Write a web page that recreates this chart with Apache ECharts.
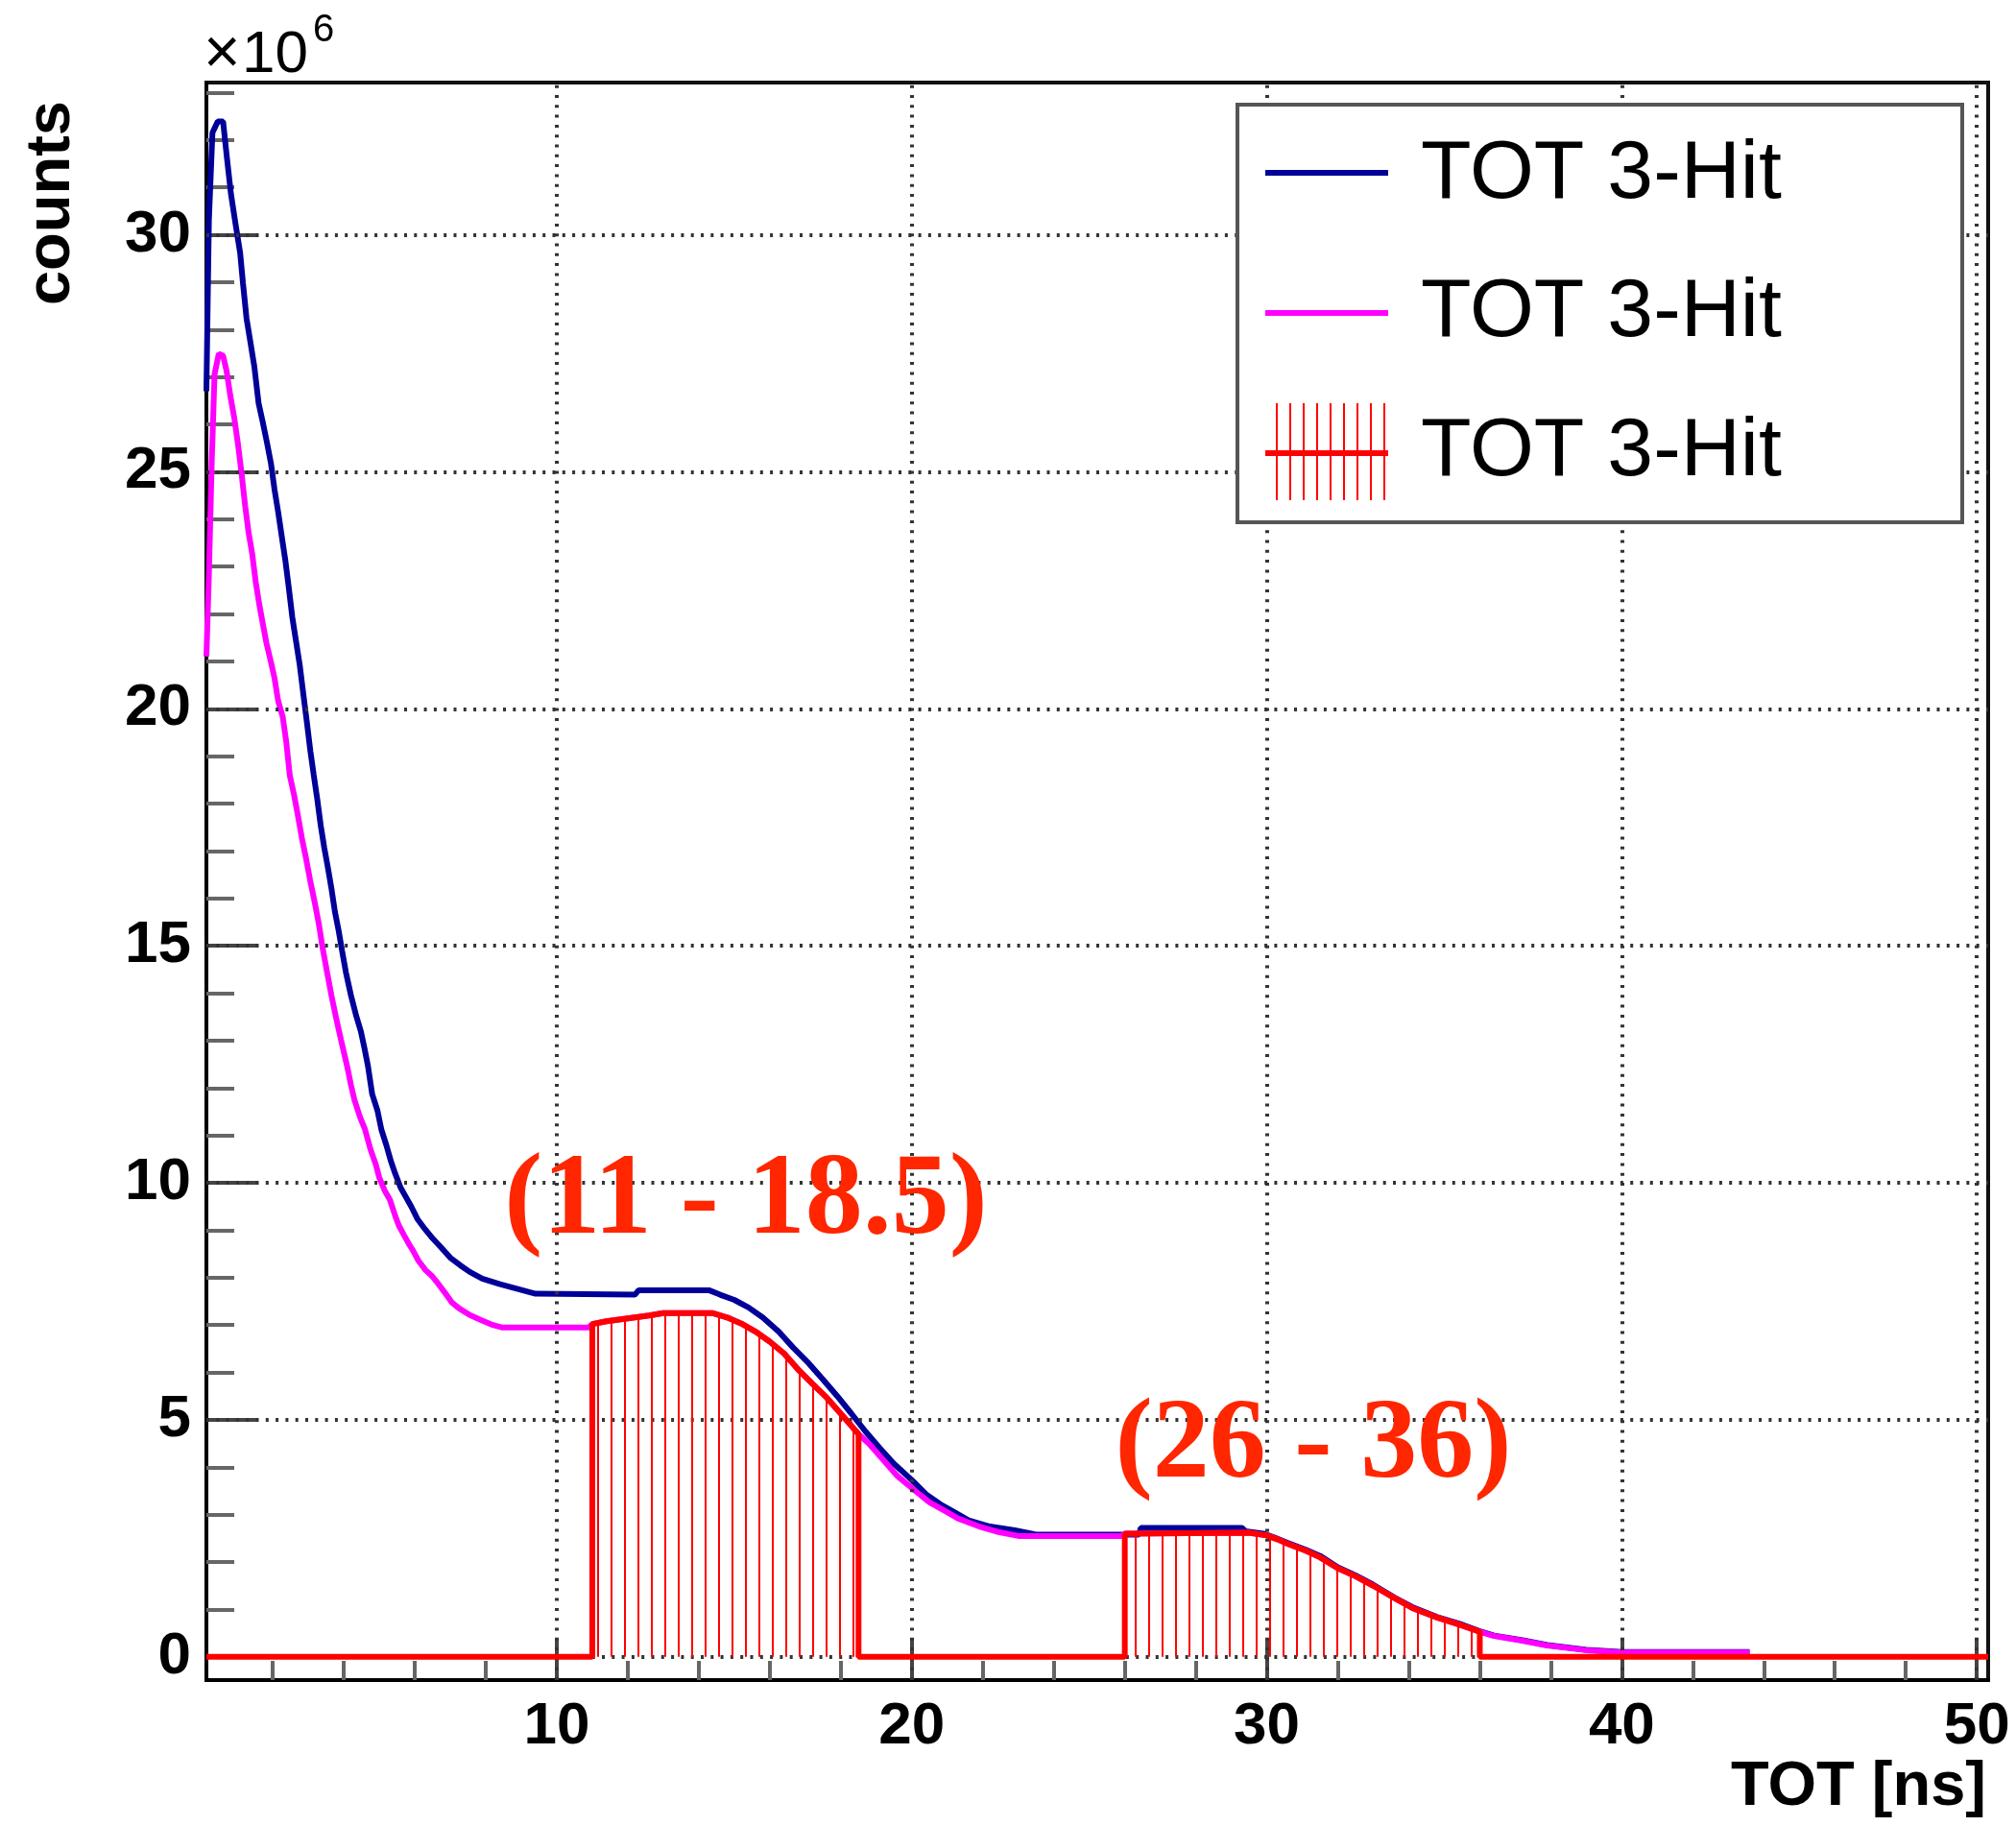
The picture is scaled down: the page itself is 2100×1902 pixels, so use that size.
<!DOCTYPE html>
<html>
<head>
<meta charset="utf-8">
<script src="https://cdn.jsdelivr.net/npm/echarts@6/dist/echarts.min.js"></script>
<style>
  html, body { margin: 0; padding: 0; background: #ffffff; }
  #chart { width: 2100px; height: 1902px; }
</style>
</head>
<body>
<div id="chart"></div>
<script>
// Axis ranges (TOT in ns, counts in units of 10^6)
const xRange = [0.13, 50.32];
const yRange = [-0.49, 33.21];

// Tick positions
const xMajorTicks = [10, 20, 30, 40, 50];
const xMinorTicks = [2, 4, 6, 8, 10, 12, 14, 16, 18, 20, 22, 24, 26, 28, 30, 32, 34, 36, 38, 40, 42, 44, 46, 48, 50];
const yMajorTicks = [0, 5, 10, 15, 20, 25, 30];
const yMinorTicks = [0, 1, 2, 3, 4, 5, 6, 7, 8, 9, 10, 11, 12, 13, 14, 15, 16, 17, 18, 19, 20,
                     21, 22, 23, 24, 25, 26, 27, 28, 29, 30, 31, 32, 33];

// Selection windows (ns) and their labels
const windows = [[11, 18.5], [26, 36]];
const windowLabels = ['(11 - 18.5)', '(26 - 36)'];

// Legend entries
const legendNames = ['TOT 3-Hit', 'TOT 3-Hit', 'TOT 3-Hit'];

// TOT spectrum, first histogram: [TOT ns, counts x1e6]
const blueTOT = [
  [0.13, 26.7], [0.2, 30.3], [0.3, 32.15], [0.45, 32.39], [0.6, 32.39], [0.7, 31.68],
  [0.82, 30.87], [0.95, 30.23], [1.08, 29.62], [1.16, 28.98], [1.26, 28.24], [1.37, 27.73],
  [1.48, 27.22], [1.6, 26.45], [1.72, 26.04], [1.84, 25.6], [1.95, 25.17], [2.05, 24.62],
  [2.15, 24.16], [2.25, 23.65], [2.35, 23.15], [2.45, 22.56], [2.55, 21.93], [2.65, 21.45],
  [2.76, 20.92], [2.86, 20.31], [2.96, 19.72], [3.06, 19.1], [3.15, 18.62], [3.25, 18.11],
  [3.35, 17.54], [3.45, 17.07], [3.55, 16.66], [3.65, 16.22], [3.75, 15.72], [3.85, 15.34],
  [3.95, 14.9], [4.06, 14.44], [4.2, 13.96], [4.35, 13.52], [4.48, 13.2], [4.58, 12.85],
  [4.68, 12.47], [4.8, 11.87], [4.95, 11.52], [5.06, 11.12], [5.2, 10.79], [5.33, 10.45],
  [5.45, 10.19], [5.6, 9.9], [5.75, 9.7], [5.9, 9.5], [6.08, 9.23], [6.28, 9.03],
  [6.5, 8.83], [6.75, 8.63], [7.0, 8.42], [7.28, 8.26], [7.55, 8.12], [7.9, 7.98],
  [8.4, 7.86], [8.9, 7.76], [9.4, 7.66], [12.2, 7.64], [12.3, 7.73], [14.3, 7.73],
  [14.6, 7.64], [15.0, 7.53], [15.4, 7.37], [15.8, 7.16], [16.25, 6.86], [16.65, 6.53],
  [17.1, 6.19], [17.5, 5.85], [17.9, 5.5], [18.3, 5.13], [18.7, 4.75], [19.1, 4.4],
  [19.5, 4.07], [20.0, 3.73], [20.4, 3.43], [20.8, 3.22], [21.2, 3.05], [21.6, 2.88],
  [22.2, 2.75], [22.9, 2.67], [23.5, 2.58], [26.4, 2.58], [26.45, 2.72], [29.3, 2.72],
  [29.4, 2.65], [29.9, 2.6], [30.2, 2.52], [30.6, 2.4], [31.1, 2.26], [31.5, 2.13],
  [32.0, 1.89], [32.5, 1.72], [33.0, 1.52], [33.6, 1.25], [34.1, 1.05], [34.8, 0.84],
  [35.5, 0.68], [36.0, 0.54], [36.4, 0.45], [37.2, 0.35], [37.9, 0.25], [39.0, 0.15],
  [40.0, 0.1], [43.6, 0.1]
];

// TOT spectrum, second histogram: [TOT ns, counts x1e6]
const magentaTOT = [
  [0.13, 21.1], [0.2, 22.8], [0.28, 25.2], [0.36, 27.06], [0.48, 27.49], [0.6, 27.45],
  [0.7, 27.12], [0.8, 26.62], [0.92, 26.11], [1.02, 25.58], [1.12, 24.97], [1.22, 24.29],
  [1.32, 23.71], [1.42, 23.27], [1.52, 22.67], [1.62, 22.2], [1.72, 21.79], [1.82, 21.39],
  [1.95, 20.98], [2.05, 20.64], [2.15, 20.17], [2.28, 19.83], [2.38, 19.3], [2.48, 18.59],
  [2.6, 18.18], [2.7, 17.78], [2.82, 17.27], [2.93, 16.87], [3.05, 16.39], [3.18, 15.92],
  [3.3, 15.45], [3.4, 14.97], [3.53, 14.44], [3.65, 13.96], [3.78, 13.49], [3.92, 13.02],
  [4.02, 12.7], [4.12, 12.37], [4.2, 12.07], [4.3, 11.75], [4.45, 11.4], [4.6, 11.12],
  [4.75, 10.71], [4.9, 10.39], [5.0, 10.11], [5.15, 9.84], [5.3, 9.64], [5.45, 9.3],
  [5.55, 9.1], [5.7, 8.89], [5.85, 8.69], [5.95, 8.57], [6.1, 8.36], [6.3, 8.16],
  [6.5, 8.02], [6.65, 7.88], [6.85, 7.68], [7.05, 7.47], [7.25, 7.35], [7.55, 7.21],
  [7.85, 7.11], [8.2, 7.0], [8.45, 6.95], [10.9, 6.95], [11.0, 7.02], [11.4, 7.08],
  [11.8, 7.12], [12.2, 7.16], [12.6, 7.2], [13.0, 7.25], [14.4, 7.25], [14.8, 7.16],
  [15.2, 7.03], [15.6, 6.86], [16.0, 6.65], [16.4, 6.4], [16.8, 6.06], [17.2, 5.76],
  [17.6, 5.47], [18.0, 5.13], [18.5, 4.7], [18.8, 4.49], [19.2, 4.15], [19.6, 3.81],
  [20.1, 3.5], [20.5, 3.26], [20.9, 3.09], [21.3, 2.92], [21.9, 2.75], [22.4, 2.64],
  [23.0, 2.55], [25.9, 2.55], [26.0, 2.6], [29.5, 2.62], [30.0, 2.56], [30.3, 2.48],
  [30.6, 2.38], [31.1, 2.24], [31.5, 2.1], [32.0, 1.87], [32.5, 1.7], [33.0, 1.5],
  [33.6, 1.24], [34.1, 1.03], [34.8, 0.83], [35.5, 0.66], [36.0, 0.53], [36.4, 0.44],
  [37.2, 0.34], [37.9, 0.24], [39.0, 0.14], [40.0, 0.09], [43.6, 0.09]
];

// Third histogram: the second spectrum kept only inside the selection windows
function windowed(src, wins) {
  const out = [[xRange[0], 0]];
  wins.forEach(function (w) {
    out.push([w[0], 0]);
    src.forEach(function (p) { if (p[0] >= w[0] && p[0] <= w[1]) out.push(p); });
    out.push([w[1], 0]);
  });
  out.push([xRange[1], 0]);
  return out;
}
const selectedTOT = windowed(magentaTOT, windows);

const SANS = "'Liberation Sans', Arial, Helvetica, sans-serif";
const SERIF = "'Liberation Serif', 'Times New Roman', Times, serif";
const BLUE = '#000099', MAGENTA = '#ff00ff', RED = '#ff0000', NOTE = '#ff2600';
const LINE_W = 6;

// vertical-line hatch used to fill the windowed histogram
const hatch = document.createElement('canvas');
hatch.width = 14; hatch.height = 8;
const hctx = hatch.getContext('2d');
hctx.fillStyle = RED;
hctx.fillRect(6, 0, 2, 8);

const chart = echarts.init(document.getElementById('chart'), null, { renderer: 'canvas' });

function valueAxis(range, extra) {
  return Object.assign({
    type: 'value', min: range[0], max: range[1],
    splitLine: { show: false }, minorTick: { show: false }
  }, extra);
}

// legend drawn as graphics (all three entries share one name)
const legendGraphics = [
  { type: 'rect', shape: { x: 1289, y: 109, width: 755, height: 435 },
    style: { fill: '#ffffff', stroke: '#555555', lineWidth: 4 }, z: 100 },
  { type: 'line', shape: { x1: 1318, y1: 180, x2: 1446, y2: 180 },
    style: { stroke: BLUE, lineWidth: LINE_W }, z: 101 },
  { type: 'line', shape: { x1: 1318, y1: 326, x2: 1446, y2: 326 },
    style: { stroke: MAGENTA, lineWidth: LINE_W }, z: 101 },
  { type: 'line', shape: { x1: 1318, y1: 472, x2: 1446, y2: 472 },
    style: { stroke: RED, lineWidth: LINE_W }, z: 101 }
];
for (let i = 0; i < 9; i++) {
  const lx = 1330 + i * 14;
  legendGraphics.push({ type: 'line', shape: { x1: lx, y1: 420, x2: lx, y2: 521 },
    style: { stroke: RED, lineWidth: 2 }, z: 101 });
}
[182, 326, 471].forEach(function (ty, i) {
  legendGraphics.push({ type: 'text', x: 1480, y: ty, z: 102,
    style: { text: legendNames[i], font: 'normal 86px ' + SANS, fill: '#000',
             align: 'left', verticalAlign: 'middle' } });
});

const option = {
  animation: false,
  backgroundColor: '#ffffff',
  grid: { left: 215, right: 29, top: 86, bottom: 152, show: true,
          borderColor: '#111111', borderWidth: 4, backgroundColor: 'transparent',
          containLabel: false, outerBoundsMode: 'none' },
  xAxis: [
    valueAxis(xRange, {
      position: 'bottom',
      axisLine: { show: true, onZero: false, lineStyle: { color: '#000', width: 4 } },
      axisTick: { show: true, inside: true, length: 20, customValues: xMinorTicks,
                  lineStyle: { color: '#666', width: 4 } },
      axisLabel: { show: true, customValues: xMajorTicks, margin: 18, color: '#000',
                   fontSize: 62, fontWeight: 'bold', fontFamily: SANS }
    }),
    valueAxis(xRange, {
      position: 'bottom',
      axisLine: { show: false, onZero: false },
      axisTick: { show: true, inside: true, length: 42, customValues: xMajorTicks,
                  lineStyle: { color: '#444', width: 4 } },
      axisLabel: { show: false }
    })
  ],
  yAxis: [
    valueAxis(yRange, {
      position: 'left',
      axisLine: { show: true, onZero: false, lineStyle: { color: '#000', width: 4 } },
      axisTick: { show: true, inside: true, length: 29, customValues: yMinorTicks,
                  lineStyle: { color: '#666', width: 4 } },
      axisLabel: { show: true, customValues: yMajorTicks, margin: 16, color: '#000',
                   fontSize: 62, fontWeight: 'bold', fontFamily: SANS }
    }),
    valueAxis(yRange, {
      position: 'left',
      axisLine: { show: false, onZero: false },
      axisTick: { show: true, inside: true, length: 54, customValues: yMajorTicks,
                  lineStyle: { color: '#444', width: 4 } },
      axisLabel: { show: false }
    })
  ],
  series: [
    { // dotted grid
      type: 'line', data: [[xRange[0], yRange[0]]], symbol: 'none', silent: true, z: 1,
      lineStyle: { opacity: 0 },
      markLine: {
        silent: true, symbol: ['none', 'none'], animation: false,
        label: { show: false },
        lineStyle: { color: '#333333', width: 4, type: [3, 7.3] },
        data: yMajorTicks.map(function (v) { return { yAxis: v }; })
          .concat(xMajorTicks.map(function (v) { return { xAxis: v }; }))
      }
    },
    { type: 'line', name: legendNames[0], data: blueTOT, symbol: 'none', z: 3,
      lineStyle: { color: BLUE, width: LINE_W } },
    { type: 'line', name: legendNames[1], data: magentaTOT, symbol: 'none', z: 4,
      lineStyle: { color: MAGENTA, width: LINE_W } },
    { type: 'line', name: legendNames[2], data: selectedTOT, symbol: 'none', z: 5,
      lineStyle: { color: RED, width: LINE_W },
      areaStyle: { color: { image: hatch, repeat: 'repeat' }, opacity: 1 } }
  ],
  graphic: [
    // axis multiplier "×10^6"
    { type: 'text', x: 212, y: 58, z: 50,
      style: { text: '\u00d7', font: 'normal 66px ' + SANS, fill: '#000',
               align: 'left', verticalAlign: 'middle' } },
    { type: 'text', x: 252, y: 58, z: 50,
      style: { text: '10', font: 'normal 62px ' + SANS, fill: '#000',
               align: 'left', verticalAlign: 'middle' } },
    { type: 'text', x: 326, y: 32, z: 50,
      style: { text: '6', font: 'normal 40px ' + SANS, fill: '#000',
               align: 'left', verticalAlign: 'middle' } },
    { type: 'text', x: 54, y: 105, rotation: Math.PI / 2, z: 50,
      style: { text: 'counts', font: 'bold 65px ' + SANS, fill: '#000',
               align: 'right', verticalAlign: 'middle' } },
    { type: 'text', x: 2069, y: 1862, z: 50,
      style: { text: 'TOT [ns]', font: 'bold 65px ' + SANS, fill: '#000',
               align: 'right', verticalAlign: 'middle' } },
    { type: 'text', x: 777, y: 1253, z: 50,
      style: { text: windowLabels[0], font: 'bold 120px ' + SERIF, fill: NOTE,
               align: 'center', verticalAlign: 'middle' } },
    { type: 'text', x: 1368, y: 1508, z: 50,
      style: { text: windowLabels[1], font: 'bold 118px ' + SERIF, fill: NOTE,
               align: 'center', verticalAlign: 'middle' } }
  ].concat(legendGraphics)
};

chart.setOption(option);
</script>
</body>
</html>
